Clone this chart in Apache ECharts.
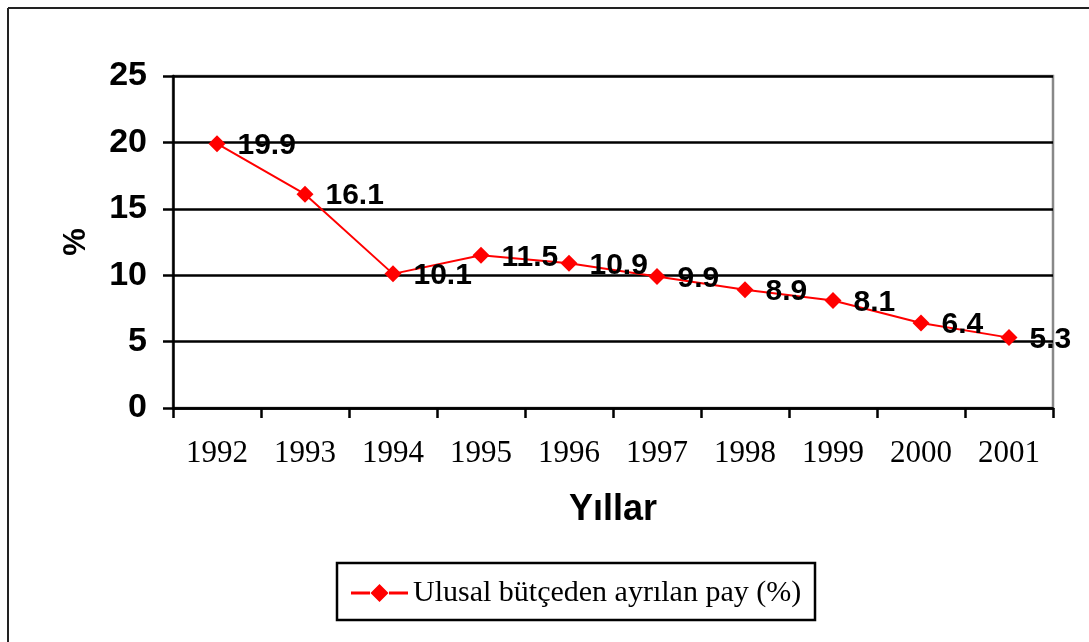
<!DOCTYPE html>
<html>
<head>
<meta charset="utf-8">
<script src="https://cdn.jsdelivr.net/npm/echarts@6/dist/echarts.min.js"></script>
<style>
html,body{margin:0;padding:0;background:#fff;}
#c{width:1089px;height:642px;}
</style>
</head>
<body>
<div id="c"></div>
<script>
var years = ['1992','1993','1994','1995','1996','1997','1998','1999','2000','2001'];
var shares = [19.9, 16.1, 10.1, 11.5, 10.9, 9.9, 8.9, 8.1, 6.4, 5.3];
var seriesName = 'Ulusal bütçeden ayrılan pay (%)';
var yTitle = '%';
var xTitle = 'Yıllar';

var chart = echarts.init(document.getElementById('c'), null, {renderer:'canvas'});
chart.setOption({
  backgroundColor:'#fff',
  animation:false,
  graphic:[
    {type:'line', shape:{x1:8,y1:8,x2:1089,y2:8}, style:{stroke:'#222',lineWidth:2}},
    {type:'line', shape:{x1:8,y1:8,x2:8,y2:642}, style:{stroke:'#222',lineWidth:2}},
    {type:'rect', shape:{x:337,y:563,width:478,height:57}, style:{fill:'none',stroke:'#000',lineWidth:2.5}, z:0}
  ],
  grid:{left:173,right:36,top:76,bottom:234,show:true,borderColor:'#888',borderWidth:2.5,backgroundColor:'#fff'},
  legend:{
    data:[seriesName],
    left:346, top:573,
    itemWidth:57, itemHeight:18, itemGap:8,
    icon:'path://M0,7.5 L19,7.5 L19,10.5 L0,10.5 Z M19.5,9 L28.5,0 L37.5,9 L28.5,18 Z M38,7.5 L57,7.5 L57,10.5 L38,10.5 Z',
    itemStyle:{color:'#ff0000'},
    textStyle:{fontFamily:'Liberation Serif, Times New Roman, serif',fontSize:30,color:'#000'}
  },
  xAxis:{
    type:'category',
    data:years,
    boundaryGap:true,
    name:xTitle,
    nameLocation:'middle',
    nameGap:84,
    nameTextStyle:{fontFamily:'Liberation Sans, Arial, sans-serif',fontWeight:'bold',fontSize:36,color:'#000'},
    axisLine:{lineStyle:{color:'#000',width:2.5}},
    axisTick:{show:true,alignWithLabel:false,length:10,lineStyle:{color:'#000',width:2.5}},
    axisLabel:{fontFamily:'Liberation Serif, Times New Roman, serif',fontSize:31,color:'#000',margin:30},
    splitLine:{show:false}
  },
  yAxis:{
    type:'value',
    min:0,max:25,interval:5,
    name:yTitle,
    nameLocation:'middle',
    nameGap:81,
    nameRotate:90,
    nameTextStyle:{fontFamily:'Liberation Sans, Arial, sans-serif',fontWeight:'bold',fontSize:31,color:'#000'},
    axisLine:{show:true,lineStyle:{color:'#000',width:2.5}},
    axisTick:{show:true,length:10,lineStyle:{color:'#000',width:2.5}},
    axisLabel:{fontFamily:'Liberation Sans, Arial, sans-serif',fontWeight:'bold',fontSize:34,color:'#000',margin:26},
    splitLine:{show:true,lineStyle:{color:'#000',width:2.5}}
  },
  series:[{
    name:seriesName,
    type:'line',
    data:shares,
    symbol:'diamond',
    symbolSize:17,
    itemStyle:{color:'#ff0000'},
    lineStyle:{color:'#ff0000',width:2},
    label:{
      show:true,position:'right',distance:12,offset:[0,2],
      fontFamily:'Liberation Sans, Arial, sans-serif',fontWeight:'bold',fontSize:30,color:'#000',
      formatter:function(p){return p.value.toFixed(1);}
    }
  }]
});
</script>
</body>
</html>
